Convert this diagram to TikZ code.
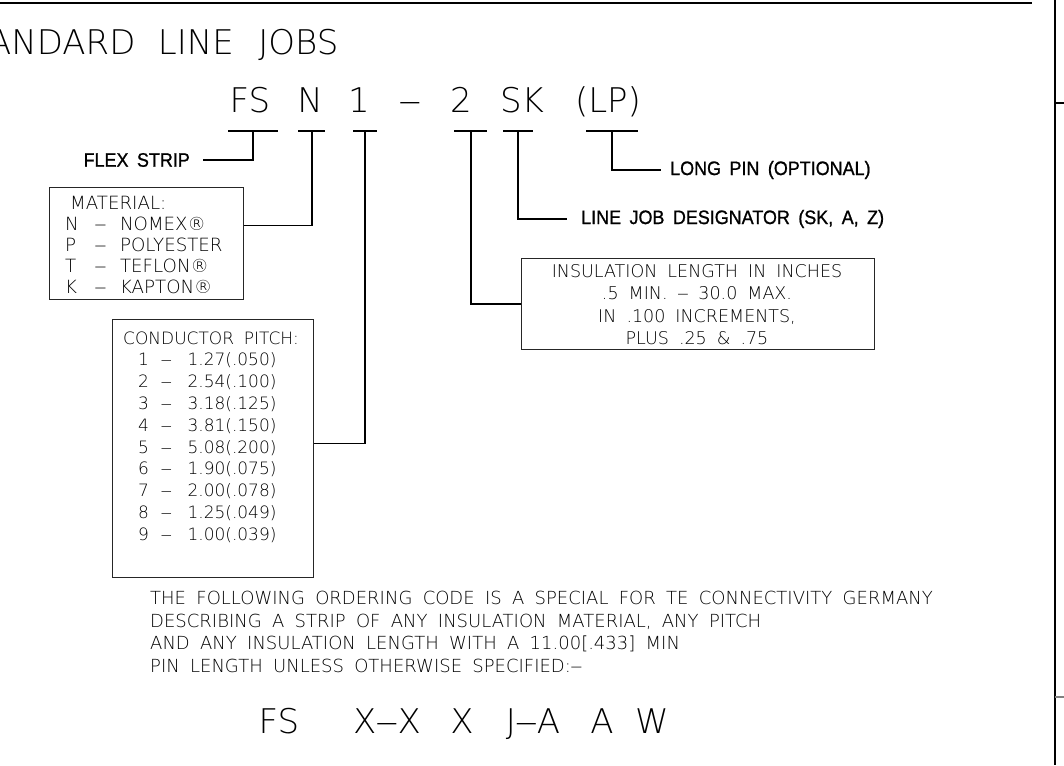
\documentclass[tikz,border=0pt]{standalone}
\usepackage{graphicx}
\usepackage{fontspec}
\setmainfont{DejaVu Sans ExtraLight}[WordSpace=1.8]
\newfontfamily\lblfont{Liberation Sans}[WordSpace=1.7,FakeStretch=0.92,FakeBold=1]
\newcommand\ldash{\scalebox{0.62}[1]{—}}
\usetikzlibrary{positioning}

\begin{document}
\begin{tikzpicture}[x=1pt,y=-1pt,
 txt/.style={inner sep=0pt,font=\fontsize{17.5}{21.8}\selectfont},
 code/.style={inner sep=0pt,anchor=base,font=\fontsize{34}{40}\selectfont},
 lbl/.style={inner ysep=0pt,font=\lblfont\fontsize{19.5}{22}\selectfont},
 box/.style={draw=black!85,line width=1.1pt,inner sep=0pt},
 lead/.style={line width=1.8pt}]
\useasboundingbox (0,0) rectangle (1064,765);
\clip (0,0) rectangle (1064,765);
% sheet frame
\draw[line width=2pt] (0,3) -- (1032,3);
\draw[line width=2.2pt] (1055,0) -- (1055,765);
\draw[line width=1.5pt] (1055,103) -- (1064,103);
\draw[line width=1.5pt,black!50] (1055,697) -- (1064,697);
\node[code,anchor=base west] (title) at (-12,55) {ANDARD\hspace{3pt} LINE\hspace{5pt} JOBS};
% part number
\node[code] (fs) at (250,113) {FS};
\node[code] (n) at (310,113) {N};
\node[code] (one) at (359,113) {1};
\node[code] (dash) at (410,113) {\ldash};
\node[code] (two) at (461,113) {2};
\node[code] (sk) at (522,113) {SK};
\node[code] (lp) at (608,113) {(LP)};
\coordinate (fsb) at (253,131);
\coordinate (nb) at (312,131);
\coordinate (oneb) at (365,131);
\coordinate (twob) at (471,131);
\coordinate (skb) at (518,131);
\coordinate (lpb) at (612,131);
\draw[lead] ([xshift=-25pt]fsb) -- ([xshift=25pt]fsb);
\draw[lead] ([xshift=-14pt]nb) -- ([xshift=13pt]nb);
\draw[lead] ([xshift=-12pt]oneb) -- ([xshift=12pt]oneb);
\draw[lead] ([xshift=-17pt]twob) -- ([xshift=16pt]twob);
\draw[lead] ([xshift=-15pt]skb) -- ([xshift=15pt]skb);
\draw[lead] ([xshift=-26pt]lpb) -- ([xshift=26pt]lpb);
% labels
\node[lbl,anchor=east,inner xsep=13pt] (flex) at (203,160) {FLEX STRIP};
\node[lbl,anchor=west,inner xsep=9pt] (pin) at (661,170) {LONG PIN (OPTIONAL)};
\node[lbl,anchor=west,inner xsep=14pt] (desig) at (567,219) {LINE JOB DESIGNATOR (SK, A, Z)};
\node[box,minimum width=194pt,minimum height=112pt,anchor=north west] (mat) at (49,187) {};
\node[txt,anchor=base west,font=\fontsize{18.2}{21}\selectfont] (mattxt) at (65,209) {\begin{tabular}[t]{@{}l@{\hspace{16pt}}l@{\hspace{14pt}}l@{}}
\multicolumn{3}{@{\hspace{5pt}}l@{}}{MATERIAL:}\\
N&\ldash&NOMEX®\\
P&\ldash&POLYESTER\\
T&\ldash&TEFLON®\\
K&\ldash&KAPTON®
\end{tabular}};
\node[box,minimum width=201pt,minimum height=258pt,anchor=north west] (pitch) at (112,319) {};
\node[txt,anchor=base west,font=\fontsize{17}{21.8}\selectfont] (pitchtxt) at (123,344) {\begin{tabular}[t]{@{\hspace{15pt}}l@{\hspace{12pt}}l@{\hspace{16pt}}l@{}}
\multicolumn{3}{@{}l@{}}{CONDUCTOR PITCH:}\\
1&\ldash&1.27(.050)\\
2&\ldash&2.54(.100)\\
3&\ldash&3.18(.125)\\
4&\ldash&3.81(.150)\\
5&\ldash&5.08(.200)\\
6&\ldash&1.90(.075)\\
7&\ldash&2.00(.078)\\
8&\ldash&1.25(.049)\\
9&\ldash&1.00(.039)
\end{tabular}};
\node[box,minimum width=353pt,minimum height=91pt,anchor=north west] (ins) at (521,258) {};
\node[txt,anchor=base,font=\fontsize{17.5}{22.3}\selectfont] (instxt) at (697,277.5) {\begin{tabular}[t]{@{}c@{}}
INSULATION LENGTH IN INCHES\\
.5 MIN. \ldash{} 30.0 MAX.\\
IN .100 INCREMENTS,\\
PLUS .25 \& .75
\end{tabular}};
% leaders
\draw[lead] (fsb) |- (flex.east);
\draw[lead] (nb) |- ([yshift=18pt]mat.east);
\draw[lead] (oneb) |- ([yshift=5pt]pitch.east);
\draw[lead] (twob) |- (ins.west);
\draw[lead] (skb) |- (desig.west);
\draw[lead] (lpb) |- (pin.west);
% special ordering code
\node[txt,anchor=base west,font=\fontsize{18}{22.5}\selectfont] (note) at (150,604.5) {\begin{tabular}[t]{@{}l@{}}
THE FOLLOWING ORDERING CODE IS A SPECIAL FOR TE CONNECTIVITY GERMANY\\
DESCRIBING A STRIP OF ANY INSULATION MATERIAL, ANY PITCH\\
AND ANY INSULATION LENGTH WITH A 11.00[.433] MIN\\
PIN LENGTH UNLESS OTHERWISE SPECIFIED:\ldash
\end{tabular}};
\node[code] (sfs) at (279,733) {FS};
\node[code] (sxx) at (387,733) {X\ldash X};
\node[code] (sx) at (462,733) {X};
\node[code] (sja) at (533,733) {J\ldash A};
\node[code] (sa) at (602,733) {A};
\node[code] (sw) at (652,733) {W};
\end{tikzpicture}
\end{document}
